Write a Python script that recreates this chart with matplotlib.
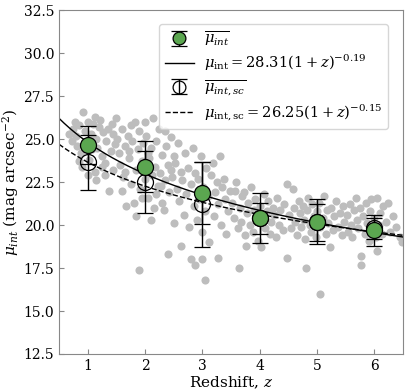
import matplotlib
matplotlib.use("Agg")
import matplotlib.pyplot as plt
import numpy as np

plt.rcParams['font.family'] = 'DejaVu Serif'
plt.rcParams['mathtext.fontset'] = 'dejavuserif'

# individual galaxies (redshift, mu_int)
gal_z = [0.67, 0.72, 0.75, 0.80, 0.82, 0.85, 0.88, 0.90, 0.92, 0.95, 0.97, 1.00, 1.02, 1.05, 1.07,
         1.10, 1.12, 1.15, 1.17, 1.20, 1.22, 1.25, 1.27, 1.30, 1.32, 1.35, 1.37, 1.40, 1.42, 1.45,
         1.47, 1.50, 1.00, 0.85, 1.15, 1.30, 0.78, 1.12, 1.45, 1.25,
         1.52, 1.55, 1.57, 1.60, 1.62, 1.65, 1.67, 1.70, 1.72, 1.75, 1.77, 1.80, 1.82, 1.85, 1.87,
         1.90, 1.90, 1.92, 1.95, 1.97, 2.00, 2.02, 2.05, 2.07, 2.10, 2.12, 2.14, 2.15, 2.17, 2.20,
         2.22, 2.25, 2.27, 2.30, 2.30, 2.33, 2.35, 2.37, 2.40, 2.40, 2.42, 2.45, 2.47, 2.50, 2.50,
         1.60, 1.75, 1.85, 2.00, 2.10, 2.20, 2.35, 1.95, 2.05, 1.65, 2.45, 2.28, 1.72,
         2.52, 2.55, 2.57, 2.60, 2.63, 2.63, 2.65, 2.68, 2.70, 2.72, 2.75, 2.77, 2.80, 2.81, 2.83,
         2.85, 2.87, 2.88, 2.90, 2.92, 2.95, 2.97, 3.00, 3.00, 3.02, 3.05, 3.05, 3.07, 3.10, 3.12,
         3.15, 3.18, 3.20, 3.22, 3.25, 3.27, 3.28, 3.31, 3.33, 3.35, 3.38, 3.40, 3.42, 3.45, 3.48,
         3.52, 3.55, 3.57, 3.59, 3.62, 3.64, 3.65, 3.68, 3.70, 3.73, 3.75, 3.76, 3.78, 3.80, 3.83,
         3.85, 3.88, 3.90, 3.92, 3.95, 3.97, 4.00, 4.02, 4.05, 4.07, 4.10, 4.12, 4.15, 4.18, 4.20,
         4.23, 4.25, 4.28, 4.30, 4.33, 4.36, 4.40, 4.43, 4.48, 4.48,
         4.52, 4.55, 4.58, 4.60, 4.62, 4.65, 4.68, 4.70, 4.72, 4.75, 4.78, 4.80, 4.81, 4.83, 4.85,
         4.88, 4.90, 4.92, 4.95, 4.98, 5.00, 5.03, 5.06, 5.06, 5.10, 5.13, 5.15, 5.18, 5.20, 5.23,
         5.25, 5.28, 5.30, 5.33, 5.36, 5.40, 5.43, 5.46, 5.48,
         5.52, 5.55, 5.58, 5.60, 5.62, 5.65, 5.68, 5.70, 5.72, 5.75, 5.76, 5.77, 5.80, 5.83, 5.85,
         5.88, 5.90, 5.93, 5.95, 5.98, 6.00, 6.03, 6.05, 6.05, 6.08, 6.10, 6.13, 6.15, 6.20, 6.24,
         6.28, 6.32, 6.38, 6.45, 6.49]
gal_mu = [25.3, 24.9, 25.6, 25.2, 24.6, 25.8, 24.2, 23.4, 26.6, 25.5, 24.8, 26.0, 23.8, 25.3, 24.4,
          25.9, 23.1, 25.0, 24.5, 25.7, 26.1, 24.0, 25.4, 23.6, 24.9, 25.6, 22.0, 24.3, 25.9, 23.2,
          24.7, 26.2, 22.9, 23.7, 22.6, 22.9, 26.0, 26.3, 25.3, 23.4,
          25.0, 24.2, 23.5, 25.6, 22.8, 24.6, 21.1, 25.2, 23.9, 22.4, 24.9, 21.3, 26.0, 23.2, 24.4,
          17.4, 25.5, 22.1, 23.7, 24.8, 22.7, 25.2, 21.6, 23.9, 24.5, 22.9, 26.2, 21.0, 23.4, 24.9,
          22.3, 25.6, 23.0, 21.3, 24.1, 20.9, 22.6, 24.6, 18.3, 23.5, 21.9, 25.1, 22.8, 20.1, 24.0,
          22.0, 25.8, 20.5, 26.0, 20.3, 21.8, 25.5, 21.6, 24.2, 23.1, 23.2, 22.3, 24.3,
          23.6, 22.1, 24.8, 21.4, 18.8, 23.1, 22.6, 20.6, 24.2, 21.8, 23.3, 19.9, 22.4, 18.0, 24.5,
          21.1, 17.7, 23.0, 20.3, 22.7, 21.5, 24.0, 18.0, 19.6, 22.2, 16.8, 20.8, 23.3, 21.7, 19.0,
          22.9, 23.6, 20.5, 21.9, 22.5, 18.1, 21.2, 24.0, 20.0, 22.2, 22.7, 21.5, 19.5, 20.8, 22.0,
          21.3, 20.4, 22.0, 22.5, 19.8, 17.5, 21.0, 20.2, 21.7, 21.9, 19.4, 18.8, 20.7, 21.3, 20.0,
          22.2, 19.6, 20.9, 21.5, 20.3, 19.1, 21.1, 18.7, 20.5, 21.8, 19.8, 20.8, 21.4, 19.5, 20.2,
          21.0, 20.6, 19.3, 21.6, 20.0, 20.9, 19.7, 21.2, 22.4, 18.1,
          20.6, 19.8, 22.1, 21.0, 20.2, 19.4, 21.4, 20.7, 19.9, 21.1, 20.3, 19.2, 17.5, 20.9, 21.6,
          20.0, 19.6, 21.2, 20.5, 19.3, 20.8, 21.3, 16.0, 19.9, 20.4, 21.7, 19.5, 20.9, 20.1, 18.7,
          21.0, 19.7, 20.5, 21.4, 19.9, 20.7, 19.4, 21.1, 20.2,
          20.6, 19.6, 21.2, 20.0, 19.3, 20.9, 21.6, 20.3, 19.8, 21.0, 18.2, 17.7, 20.5, 19.5, 21.3,
          20.1, 19.1, 20.8, 21.5, 19.7, 20.4, 19.3, 21.6, 18.5, 20.0, 20.7, 19.5, 21.1, 20.2, 21.3,
          19.6, 20.5, 19.9, 19.3, 19.0]

# binned means
bin_z = [1, 2, 3, 4, 5, 6]
mu_int = [24.65, 23.4, 21.85, 20.4, 20.2, 19.7]
mu_int_err = [1.1, 1.5, 1.8, 1.45, 1.3, 0.9]
mu_sc = [23.65, 22.5, 21.2, 20.4, 20.15, 19.8]
mu_sc_err = [1.6, 1.8, 2.45, 0.9, 1.05, 0.6]

fig = plt.figure(figsize=(4.07, 3.92), dpi=100)
ax = fig.add_axes([0.145, 0.097, 0.845, 0.877])

ax.scatter(gal_z, gal_mu, s=34, color='#bdbdbd', zorder=1, linewidths=0)

zz = np.linspace(0.5, 6.5, 200)
h1 = ax.errorbar(bin_z, mu_int, yerr=mu_int_err, fmt='o', ms=11.5, mfc='#5ba650', mec='black',
                 mew=0.9, ecolor='black', elinewidth=1, capsize=6, zorder=4,
                 label=r'$\overline{\mu_{int}}$')
h2, = ax.plot(zz, 28.31 * (1 + zz) ** -0.19, color='black', lw=1, zorder=2,
              label=r'$\mu_{\rm int} = 28.31(1+z)^{-0.19}$')
h3 = ax.errorbar(bin_z, mu_sc, yerr=mu_sc_err, fmt='o', ms=11.5, mfc='none', mec='black',
                 mew=0.9, ecolor='black', elinewidth=1, capsize=6, zorder=3,
                 label=r'$\overline{\mu_{int,sc}}$')
h4, = ax.plot(zz, 26.25 * (1 + zz) ** -0.15, color='black', lw=1, ls='--', zorder=2,
              label=r'$\mu_{\rm int,sc} = 26.25(1+z)^{-0.15}$')

ax.set_xlim(0.5, 6.5)
ax.set_ylim(12.5, 32.5)
ax.set_xticks(bin_z)
ax.set_yticks(np.arange(12.5, 33, 2.5))
ax.tick_params(direction='in', labelsize=10, color='#888888')
for s in ax.spines.values():
    s.set_color('#888888')
ax.set_xlabel(r'Redshift, $z$', fontsize=11, labelpad=1)
ax.set_ylabel(r'$\mu_{int}$ (mag arcsec$^{-2}$)', fontsize=11, labelpad=2)

ax.legend(handles=[h1, h2, h3, h4], loc='upper right', fontsize=10.5, handlelength=2.0,
          handletextpad=0.7, borderpad=0.4, labelspacing=0.3, markerscale=0.8,
          bbox_to_anchor=(0.978, 0.982))

fig.savefig('out.png', dpi=100)
